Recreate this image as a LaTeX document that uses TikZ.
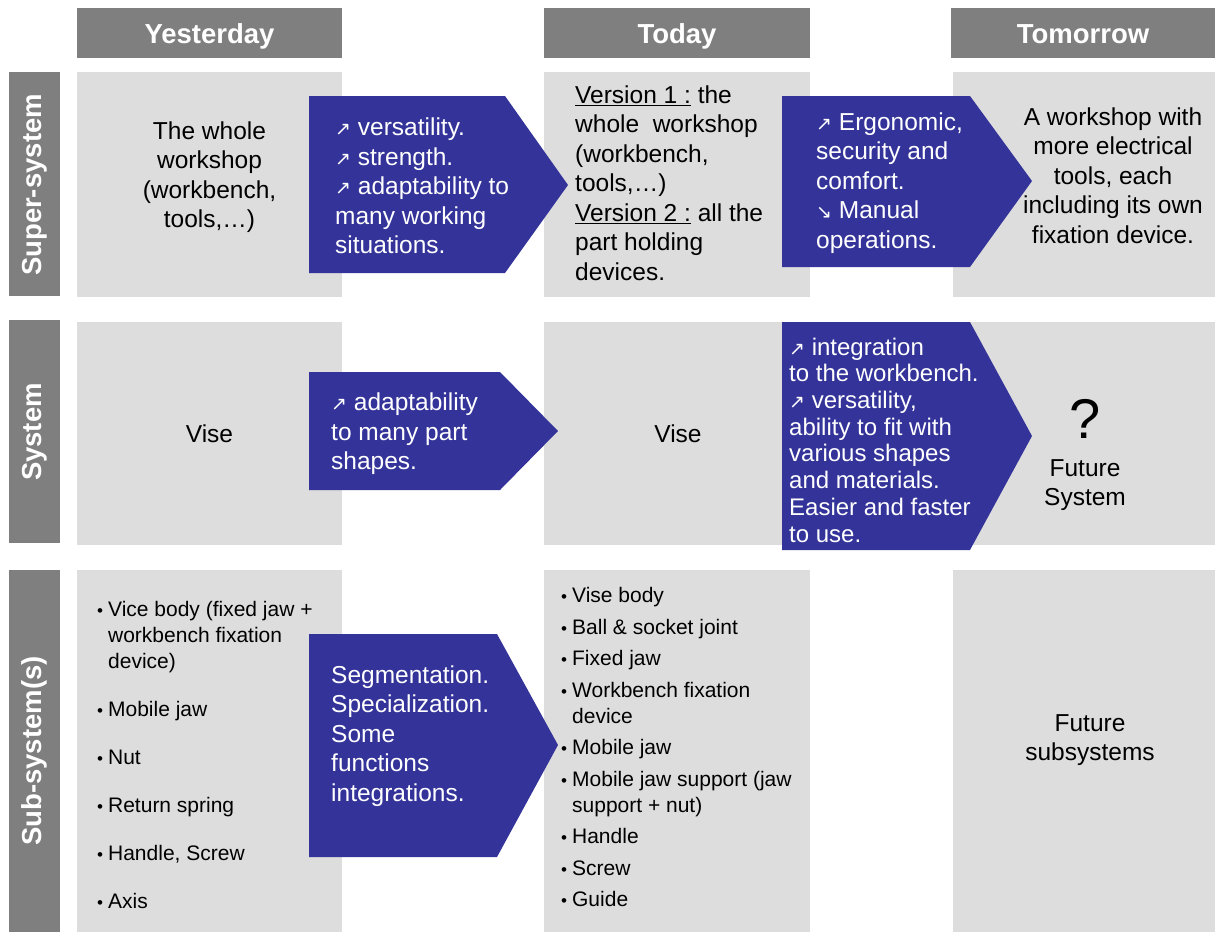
\documentclass[tikz,border=0pt]{standalone}
\usepackage{fontspec}
\setmainfont{Liberation Sans}
\newfontfamily\arrfont{DejaVu Sans}
\usepackage{tikz}
\usepackage{xcolor}

\definecolor{headgrey}{HTML}{7F7F7F}
\definecolor{cellgrey}{HTML}{DDDDDD}
\definecolor{arrowblue}{HTML}{333399}

\newcommand{\incr}{{\arrfont\fontsize{19}{19}\selectfont ↗}}
\newcommand{\decr}{{\arrfont\fontsize{19}{19}\selectfont ↘}}
\newcommand{\bul}{{\fontsize{17}{17}\selectfont •}}

\tikzset{
  headtxt/.style={text=white, inner sep=0, font=\fontsize{27.5}{33}\selectfont\bfseries},
  sidetxt/.style={headtxt, rotate=90},
  body/.style={inner sep=0, align=center, font=\fontsize{24.5}{29.5}\selectfont},
  wbody/.style={body, text=white, align=left, anchor=west},
  bullets/.style={inner sep=0, anchor=west, font=\fontsize{21}{26}\selectfont}
}

\begin{document}
\begin{tikzpicture}[x=1pt, y=-1pt]
        \useasboundingbox (0,0) rectangle (1215,932);

        % column headers
        \fill[headgrey] (77,8) rectangle (342,58);
        \fill[headgrey] (544,8) rectangle (810,58);
        \fill[headgrey] (951,8) rectangle (1215,58);
        \node[headtxt, anchor=base] (hyes) at (209.5,43) {Yesterday};
        \node[headtxt, anchor=base] (htod) at (677,43) {Today};
        \node[headtxt, anchor=base] (htom) at (1083,43) {Tomorrow};

        % row labels
        \fill[headgrey] (9,72) rectangle (60,296);
        \fill[headgrey] (9,320) rectangle (60,543);
        \fill[headgrey] (9,570) rectangle (60,932);
        \node[sidetxt] (lsuper) at (34.5,185) {Super-system};
        \node[sidetxt] (lsys) at (34.5,432) {System};
        \node[sidetxt] (lsub) at (34.5,751) {Sub-system(s)};

        % grey cells, 3 rows
        \fill[cellgrey] (77,72) rectangle (342,297);
        \fill[cellgrey] (544,72) rectangle (810,297);
        \fill[cellgrey] (953,72) rectangle (1215,297);
        \fill[cellgrey] (77,322) rectangle (342,545);
        \fill[cellgrey] (544,322) rectangle (810,545);
        \fill[cellgrey] (953,322) rectangle (1215,545);
        \fill[cellgrey] (77,570) rectangle (342,932);
        \fill[cellgrey] (544,570) rectangle (810,932);
        \fill[cellgrey] (953,570) rectangle (1215,932);

        % blue arrows between the columns
        \fill[arrowblue] (309,96) -- (505,96) -- (568,185) -- (505,273) -- (309,273) -- cycle;
        \fill[arrowblue] (782,96) -- (970,96) -- (1032,181) -- (970,267) -- (782,267) -- cycle;
        \fill[arrowblue] (309,372) -- (500,372) -- (558,431) -- (500,490) -- (309,490) -- cycle;
        \fill[arrowblue] (782,322) -- (970,322) -- (1032,436) -- (970,550) -- (782,550) -- cycle;
        \fill[arrowblue] (309,634) -- (497,634) -- (558,745) -- (497,857) -- (309,857) -- cycle;

        % super-system row
        \node[body] (ysuper) at (209.5,177) {The whole\\workshop\\(workbench,\\tools,…)};
        \node[wbody] (asuper1) at (335,186) {\incr{} versatility.\\\incr{} strength.\\\incr{} adaptability to\\many working\\situations.};
        \node[body, align=left, anchor=west] (tsuper) at (575,183) {\underline{Version 1 :} the\\whole\ \ workshop\\(workbench,\\tools,…)\\\underline{Version 2 :} all the\\part holding\\devices.};
        \node[wbody] (asuper2) at (816,183) {\incr{} Ergonomic,\\security and\\comfort.\\\decr{} Manual\\operations.};
        \node[body] (msuper) at (1113,175.5) {A workshop with\\more electrical\\tools, each\\including its own\\fixation device.};

        % system row
        \node[body] (ysys) at (209.5,434) {Vise};
        \node[wbody] (asys1) at (331,434) {\incr{} adaptability\\to many part\\shapes.};
        \node[body] (tsys) at (678,434) {Vise};
        \node[wbody, font=\fontsize{24}{26.7}\selectfont] (asys2) at (789,440) {\incr{} integration\\to the workbench.\\\incr{} versatility,\\ability to fit with\\various shapes\\and materials.\\Easier and faster\\to use.};
        \node[body, font=\fontsize{56}{56}\selectfont] (qmark) at (1085,419) {?};
        \node[body] (msys) at (1085,485) {Future\\System};

        % sub-system row
        \node[bullets] (ysub) at (97,757) {\begin{tabular}{@{}l@{\hspace{5pt}}l@{}}
          \bul & Vice body (fixed jaw +\\
               & workbench fixation\\
               & device)\\[22pt]
          \bul & Mobile jaw\\[22pt]
          \bul & Nut\\[22pt]
          \bul & Return spring\\[22pt]
          \bul & Handle, Screw\\[22pt]
          \bul & Axis
        \end{tabular}};
        \node[wbody] (asub) at (331,736) {Segmentation.\\Specialization.\\Some\\functions\\integrations.};
        \node[bullets] (tsub) at (561,749.5) {\begin{tabular}{@{}l@{\hspace{5pt}}l@{}}
          \bul & Vise body\\[5.5pt]
          \bul & Ball \& socket joint\\[5.5pt]
          \bul & Fixed jaw\\[5.5pt]
          \bul & Workbench fixation\\
               & device\\[5.5pt]
          \bul & Mobile jaw\\[5.5pt]
          \bul & Mobile jaw support (jaw\\
               & support + nut)\\[5.5pt]
          \bul & Handle\\[5.5pt]
          \bul & Screw\\[5.5pt]
          \bul & Guide
        \end{tabular}};
        \node[body] (msub) at (1090,740) {Future\\subsystems};

      \end{tikzpicture}
\end{document}
